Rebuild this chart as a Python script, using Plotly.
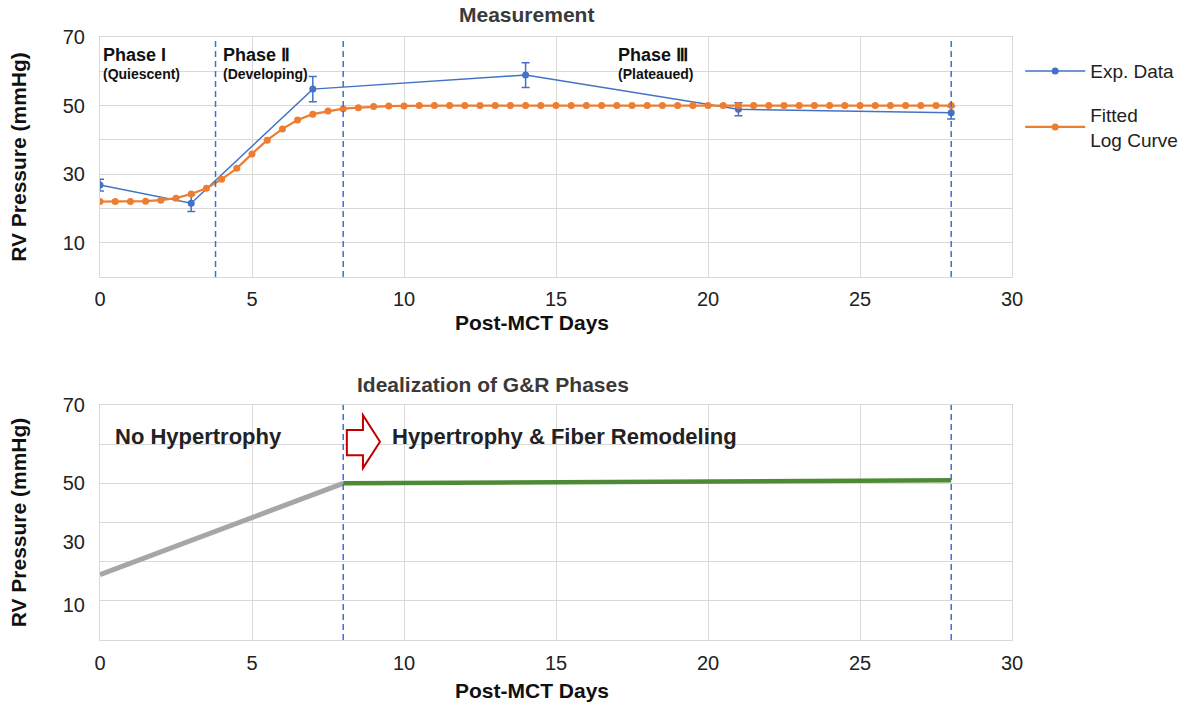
import plotly.graph_objects as go

# ---------------- data ----------------
exp_days = [0, 3, 7, 14, 21, 28]
exp_pressure = [26.8, 21.5, 54.8, 58.9, 48.9, 47.9]
exp_error = [1.7, 2.4, 3.7, 3.6, 1.9, 1.85]

fit_days = [0, 0.5, 1, 1.5, 2, 2.5, 3, 3.5, 4, 4.5, 5, 5.5, 6, 6.5, 7, 7.5, 8, 8.5, 9, 9.5,
            10, 10.5, 11, 11.5, 12, 12.5, 13, 13.5, 14, 14.5, 15, 15.5, 16, 16.5, 17, 17.5,
            18, 18.5, 19, 19.5, 20, 20.5, 21, 21.5, 22, 22.5, 23, 23.5, 24, 24.5, 25, 25.5,
            26, 26.5, 27, 27.5, 28]
fit_pressure = [22.0, 22.0, 22.0, 22.1, 22.4, 23.0, 24.2, 25.9, 28.5, 31.7, 35.9, 39.9, 43.2,
                45.8, 47.5, 48.4, 49.1, 49.4, 49.7, 49.85, 49.9, 50.0, 50.0, 50.0, 50.0, 50.0,
                50.0, 50.0, 50.0, 50.0, 50.0, 50.0, 50.0, 50.0, 50.0, 50.0, 50.0, 50.0, 50.0,
                50.0, 50.0, 50.0, 50.0, 50.0, 50.0, 50.0, 50.0, 50.0, 50.0, 50.0, 50.0, 50.0,
                50.0, 50.0, 50.0, 50.0, 50.0]

phase_bounds_top = [3.8, 8, 28]
phase_bounds_bottom = [8, 28]

ideal_pre_days = [0, 8]
ideal_pre_pressure = [26.7, 50.0]
ideal_post_days = [8, 28]
ideal_post_pressure = [50.0, 50.8]

x_ticks = [0, 5, 10, 15, 20, 25, 30]
top_y_tickvals = [10, 30, 50, 70]
top_y_ticktext = ["10", "30", "50", "70"]
bottom_y_tickvals = [19, 35, 50, 70]
bottom_y_ticktext = ["10", "30", "50", "70"]

# ---------------- style ----------------
FONT = "Liberation Sans, Arial, sans-serif"
BLUE = "#4472C4"
ORANGE = "#ED7D31"
GRID = "#d9d9d9"
DASH_BLUE = "#3f6fd0"

fig = go.Figure()

fig.add_trace(go.Scatter(
    x=exp_days, y=exp_pressure, mode="lines+markers", name="Exp. Data",
    line=dict(color=BLUE, width=1.5), marker=dict(color=BLUE, size=7),
    error_y=dict(type="data", array=exp_error, color=BLUE, thickness=1.5, width=4),
    xaxis="x", yaxis="y", legendgroup="a"))

fig.add_trace(go.Scatter(
    x=fit_days, y=fit_pressure, mode="lines+markers", name="Fitted<br>Log Curve",
    line=dict(color=ORANGE, width=2.2), marker=dict(color=ORANGE, size=7),
    xaxis="x", yaxis="y", legendgroup="b"))

fig.add_trace(go.Scatter(
    x=ideal_pre_days, y=ideal_pre_pressure, mode="lines", showlegend=False,
    line=dict(color="#a6a6a6", width=5), xaxis="x2", yaxis="y2"))

fig.add_trace(go.Scatter(
    x=ideal_post_days, y=ideal_post_pressure, mode="lines", showlegend=False,
    line=dict(color="#4e8a35", width=4.5), xaxis="x2", yaxis="y2"))

shapes = []
for b in phase_bounds_top:
    shapes.append(dict(type="line", xref="x", yref="y domain", x0=b, x1=b, y0=0, y1=1,
                       line=dict(color=DASH_BLUE, width=1.5, dash="6px,4px")))
for b in phase_bounds_bottom:
    shapes.append(dict(type="line", xref="x2", yref="y2 domain", x0=b, x1=b, y0=0, y1=1,
                       line=dict(color=DASH_BLUE, width=1.5, dash="6px,4px")))
# red outlined block arrow
shapes.append(dict(type="path", xref="x2", yref="y2",
                   path="M 8.12 63.6 L 8.65 63.6 L 8.65 67.4 L 9.21 60.6 L 8.65 53.9 L 8.65 57.2 L 8.12 57.2 Z",
                   line=dict(color="#c00000", width=2), fillcolor="white"))

axis_common = dict(showgrid=True, gridcolor=GRID, showline=True, linecolor=GRID, mirror=True,
                   zeroline=False, ticks="", tickfont=dict(family=FONT, size=20, color="#222"))

TITLE_FONT = dict(family=FONT, size=21, color="#3a3a3a")
XT_FONT = dict(family=FONT, size=21, color="#111")

annotations = [
    dict(text="<b>Measurement</b>", xref="paper", yref="paper", x=0.468, y=1.038, showarrow=False,
         font=TITLE_FONT, xanchor="center", yanchor="middle"),
    dict(text="<b>Idealization of G&R Phases</b>", xref="paper", yref="paper", x=0.431, y=0.423,
         showarrow=False, font=TITLE_FONT, xanchor="center", yanchor="middle"),
    dict(text="<b>Post-MCT Days</b>", xref="paper", yref="paper", x=0.474, y=(640 - 322) / 603,
         showarrow=False, font=XT_FONT, xanchor="center", yanchor="middle"),
    dict(text="<b>Post-MCT Days</b>", xref="paper", yref="paper", x=0.474, y=(640 - 690) / 603,
         showarrow=False, font=XT_FONT, xanchor="center", yanchor="middle"),
    dict(text="<b>Phase I</b>", xref="x", yref="y", x=0.04, y=64.7, showarrow=False,
         xanchor="left", font=dict(family=FONT, size=18, color="#111")),
    dict(text="<b>(Quiescent)</b>", xref="x", yref="y", x=0.04, y=59.2, showarrow=False,
         xanchor="left", font=dict(family=FONT, size=14, color="#111")),
    dict(text="<b>Phase Ⅱ</b>", xref="x", yref="y", x=3.98, y=64.7, showarrow=False,
         xanchor="left", font=dict(family=FONT, size=18, color="#111")),
    dict(text="<b>(Developing)</b>", xref="x", yref="y", x=3.98, y=59.2, showarrow=False,
         xanchor="left", font=dict(family=FONT, size=14, color="#111")),
    dict(text="<b>Phase Ⅲ</b>", xref="x", yref="y", x=16.97, y=64.7, showarrow=False,
         xanchor="left", font=dict(family=FONT, size=18, color="#111")),
    dict(text="<b>(Plateaued)</b>", xref="x", yref="y", x=16.97, y=59.2, showarrow=False,
         xanchor="left", font=dict(family=FONT, size=14, color="#111")),
    dict(text="<b>No Hypertrophy</b>", xref="x2", yref="y2", x=0.43, y=61.9, showarrow=False,
         xanchor="left", font=dict(family=FONT, size=22, color="#222")),
    dict(text="<b>Hypertrophy & Fiber Remodeling</b>", xref="x2", yref="y2", x=9.54, y=61.9,
         showarrow=False, xanchor="left", font=dict(family=FONT, size=22, color="#222")),
]

YT = dict(text="<b>RV Pressure (mmHg)</b>", font=dict(family=FONT, size=21, color="#111"), standoff=30)

fig.update_layout(
    width=1188, height=709,
    margin=dict(l=100, r=176, t=37, b=69, autoexpand=False),
    plot_bgcolor="white", paper_bgcolor="white",
    font=dict(family=FONT, color="#222"),
    xaxis=dict(axis_common, domain=[0, 1], range=[0, 30], tickvals=x_ticks, anchor="y",
               ticklabelstandoff=4),
    yaxis=dict(axis_common, domain=[0.602, 1], range=[0, 70], tickvals=top_y_tickvals,
               ticktext=top_y_ticktext, showgrid=False, anchor="x", ticklabelstandoff=10,
               minor=dict(dtick=10, tick0=0, showgrid=True, gridcolor=GRID), title=YT),
    xaxis2=dict(axis_common, domain=[0, 1], range=[0, 30], tickvals=x_ticks, anchor="y2",
                ticklabelstandoff=5),
    yaxis2=dict(axis_common, domain=[0, 0.3897], range=[10, 70], tickvals=bottom_y_tickvals,
                ticktext=bottom_y_ticktext, showgrid=False, anchor="x2", ticklabelstandoff=10,
                minor=dict(dtick=10, tick0=0, showgrid=True, gridcolor=GRID), title=YT),
    legend=dict(x=1.009, y=0.975, xanchor="left", yanchor="top",
                font=dict(family=FONT, size=19, color="#222"), itemwidth=60,
                tracegroupgap=16, bgcolor="rgba(0,0,0,0)"),
    shapes=shapes,
    annotations=annotations,
)

fig.write_html("out.html")
